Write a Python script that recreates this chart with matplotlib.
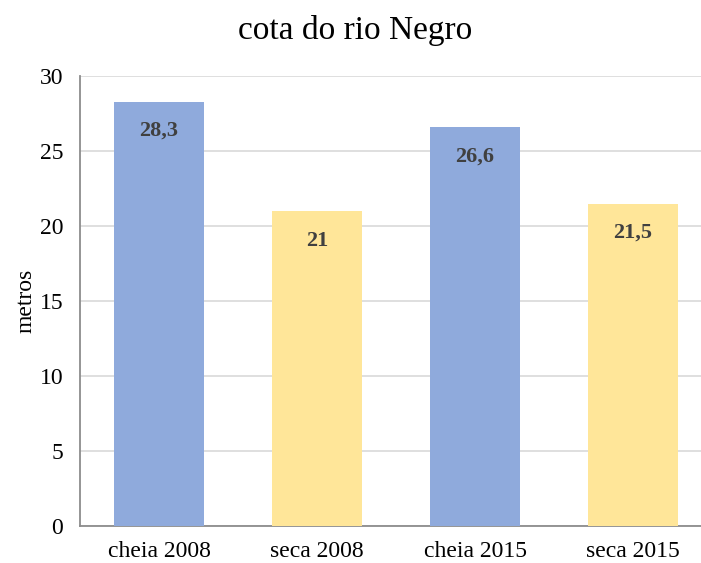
import matplotlib
matplotlib.use('Agg')
import matplotlib.pyplot as plt

# dados da cota do rio Negro
categorias = ['cheia 2008', 'seca 2008', 'cheia 2015', 'seca 2015']
cotas = [28.3, 21, 26.6, 21.5]
rotulos = ['28,3', '21', '26,6', '21,5']
cores = ['#8FAADC', '#FFE699', '#8FAADC', '#FFE699']

plt.rcParams['font.family'] = ['Liberation Serif', 'DejaVu Serif']

fig = plt.figure(figsize=(7.01, 5.63), dpi=100)
ax = fig.add_axes([80/701, 1-526/563, 1-80/701, (526-76)/563])

x = range(len(categorias))
bars = ax.bar(x, cotas, width=0.57, color=cores, zorder=3)

for b, r in zip(bars, rotulos):
    ax.text(b.get_x() + b.get_width()/2, b.get_height() - 1.3, r,
            ha='center', va='top', fontsize=16, fontweight='bold', color='#404040', zorder=4)

ax.set_xlim(-0.5, 3.43)
ax.set_ylim(0, 30)
ax.set_yticks(range(0, 31, 5))
ax.set_xticks(list(x))
ax.set_xticklabels(categorias)
ax.tick_params(axis='both', length=0, labelsize=17, colors='black')
ax.tick_params(axis='x', pad=11)
ax.tick_params(axis='y', pad=12)
ax.yaxis.grid(True, color='#D9D9D9', linewidth=1.2, zorder=0)
ax.set_axisbelow(True)
for s in ['top', 'right']:
    ax.spines[s].set_visible(False)
ax.spines['left'].set_color('#8C8C8C')
ax.spines['bottom'].set_color('#8C8C8C')
ax.spines['left'].set_linewidth(1.3)
ax.spines['bottom'].set_linewidth(1.3)

ax.set_ylabel('metros', fontsize=17, labelpad=2)
fig.text(355/701, 1-30/563, 'cota do rio Negro', ha='center', va='center', fontsize=24)

fig.savefig('out.png', dpi=100)
